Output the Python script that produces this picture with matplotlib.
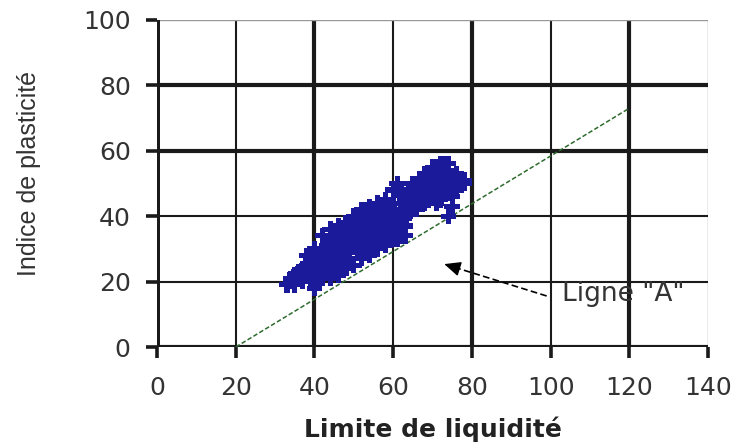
import numpy as np
import matplotlib
matplotlib.use("Agg")
import matplotlib.pyplot as plt

# limite de liquidite (LL) / indice de plasticite (IP)
ll = [33, 34, 35, 35, 36, 36, 37, 37, 38, 38, 39, 39, 40, 40, 40, 40,
      41, 41, 42, 42, 42, 43, 43, 43, 44, 44, 44, 45, 45, 45, 46, 46, 46,
      47, 47, 47, 48, 48, 48, 49, 49, 49, 50, 50, 50, 51, 51, 51,
      52, 52, 52, 53, 53, 53, 54, 54, 54, 55, 55, 55, 56, 56, 56,
      57, 57, 57, 58, 58, 58, 59, 59, 59, 60, 60, 60, 60,
      61, 61, 61, 61, 60, 62, 62, 62, 62, 63, 63, 63, 64, 64, 65, 65, 65,
      66, 66, 66, 67, 67, 67, 68, 68, 68, 69, 69, 69, 70, 70, 70,
      71, 71, 71, 72, 72, 72, 73, 73, 73, 74, 74, 74, 75, 75, 76, 76, 77, 78,
      34, 36, 37, 38, 39, 41, 42, 43, 44, 45, 46, 47, 48, 49, 50, 51,
      52, 53, 54, 55, 56, 57, 58, 59, 63, 64, 65, 66, 67, 68, 69, 70,
      71, 72, 73, 74, 75, 76, 58, 55, 50, 45, 40, 62, 70, 73,
      42, 44, 46, 48, 50, 52, 54, 56, 58, 61, 63,
      38, 40, 42, 44, 46, 48, 50, 52, 54, 56, 58, 64, 66, 68, 70, 72, 74, 76, 78,
      44, 46, 48, 50, 52, 54, 56, 58, 60, 62, 64, 66, 68, 70, 72, 74, 76,
      49, 51, 53, 47, 43, 41, 55, 57, 59]
ip = [19, 20, 19, 22, 21, 23, 20, 24, 22, 25, 21, 27, 18, 23, 26, 29,
      24, 28, 22, 26, 30, 25, 29, 31, 23, 27, 32, 26, 30, 34, 28, 32, 36,
      27, 31, 35, 29, 33, 37, 30, 34, 38, 31, 35, 39, 33, 37, 40,
      32, 36, 41, 34, 38, 42, 35, 39, 43, 33, 37, 41, 36, 40, 43,
      35, 39, 42, 37, 41, 44, 36, 40, 43, 33, 38, 42, 44,
      35, 39, 48, 50, 48, 34, 40, 44, 48, 37, 42, 45, 43, 46, 44, 47, 50,
      44, 46, 49, 45, 48, 51, 44, 47, 52, 45, 49, 53, 46, 51, 54,
      44, 48, 55, 45, 50, 55, 47, 52, 56, 40, 49, 54, 43, 51, 48, 53, 50, 51,
      21, 22, 22, 23, 24, 26, 28, 27, 29, 28, 30, 29, 31, 32, 33, 35,
      34, 36, 37, 35, 38, 37, 39, 38, 40, 41, 42, 42, 44, 45, 47, 48,
      50, 53, 54, 51, 46, 50, 42, 39, 37, 32, 20, 42, 49, 50,
      21, 21, 22, 24, 25, 27, 28, 30, 31, 33, 34,
      28, 30, 34, 36, 37, 38, 40, 42, 43, 44, 45, 47, 50, 53, 55, 56, 56, 53, 50,
      30, 30, 30, 32, 34, 33, 34, 34, 36, 38, 41, 43, 45, 48, 48, 47, 50,
      27, 29, 31, 25, 23, 21, 31, 33, 34]

# ligne "A" : IP = 0.73 (LL - 20)
a_ll = np.array([20, 120])
a_ip = 0.73 * (a_ll - 20)

x_ticks = [0, 20, 40, 60, 80, 100, 120, 140]
y_ticks = [0, 20, 40, 60, 80, 100]
x_thick = [0, 40, 80, 120]
y_thick = [0, 60, 80]

label_xy = (103, 16.2)
arrow_tail = (99, 15.6)
arrow_tip = (72.3, 25.6)

fig = plt.figure(figsize=(7.34, 4.43), dpi=100)
ax = fig.add_axes([0.214, 0.2167, 0.7506, 0.7383])

for v in x_ticks:
    if v == 140:
        ax.axvline(v, color="#999999", lw=1.0, zorder=1)
    else:
        ax.axvline(v, color="#1a1a1a", lw=3.0 if v in x_thick else 1.5, zorder=1)
for v in y_ticks:
    if v == 100:
        ax.axhline(v, color="#999999", lw=1.0, zorder=1)
    else:
        ax.axhline(v, color="#1a1a1a", lw=3.0 if v in y_thick else 1.5, zorder=1)
ax.axvline(0, color="#1a1a1a", lw=3.6, zorder=1)

ax.scatter(ll, ip, s=125, marker="P", color="#1a1a9a", edgecolors="none", zorder=3)
ax.plot(a_ll, a_ip, color="#2e6b2e", lw=1.1, ls=(0, (3, 1.5)), zorder=2)

# fleche vers la ligne A
ax.plot([arrow_tail[0], arrow_tip[0] + 4], [arrow_tail[1], arrow_tip[1] - 1.5],
        color="black", lw=1.2, ls=(0, (4, 2)), zorder=4)
ax.annotate("", xy=arrow_tip, xytext=(arrow_tip[0] + 4.5, arrow_tip[1] - 1.7),
            arrowprops=dict(arrowstyle="-|>,head_length=1.0,head_width=0.45",
                            color="black", lw=1.0), zorder=4)
ax.text(label_xy[0], label_xy[1], 'Ligne "A"', fontsize=19,
        family="DejaVu Sans", color="#333333", va="center", ha="left", zorder=5)

ax.set_xlim(0, 140)
ax.set_ylim(0, 100)
ax.set_xticks(x_ticks)
ax.set_yticks(y_ticks)
for s in ax.spines.values():
    s.set_visible(False)
ax.tick_params(axis="y", direction="out", length=8, width=2.6, color="#1a1a1a",
               labelsize=18, labelcolor="#333333", pad=11)
ax.tick_params(axis="x", direction="out", length=8, width=2.6, color="#1a1a1a",
               labelsize=18, labelcolor="#333333", pad=13)
for lab in ax.get_xticklabels() + ax.get_yticklabels():
    lab.set_family("DejaVu Sans")

ax.set_xlabel("Limite de liquidité", fontsize=18, fontweight="bold",
              family="DejaVu Sans", color="#222222", labelpad=12)
ax.set_ylabel("Indice de plasticité", fontsize=18,
              family="Liberation Sans", color="#333333")
ax.yaxis.set_label_coords(-0.21, 0.53)

fig.savefig("out.png", dpi=100)
